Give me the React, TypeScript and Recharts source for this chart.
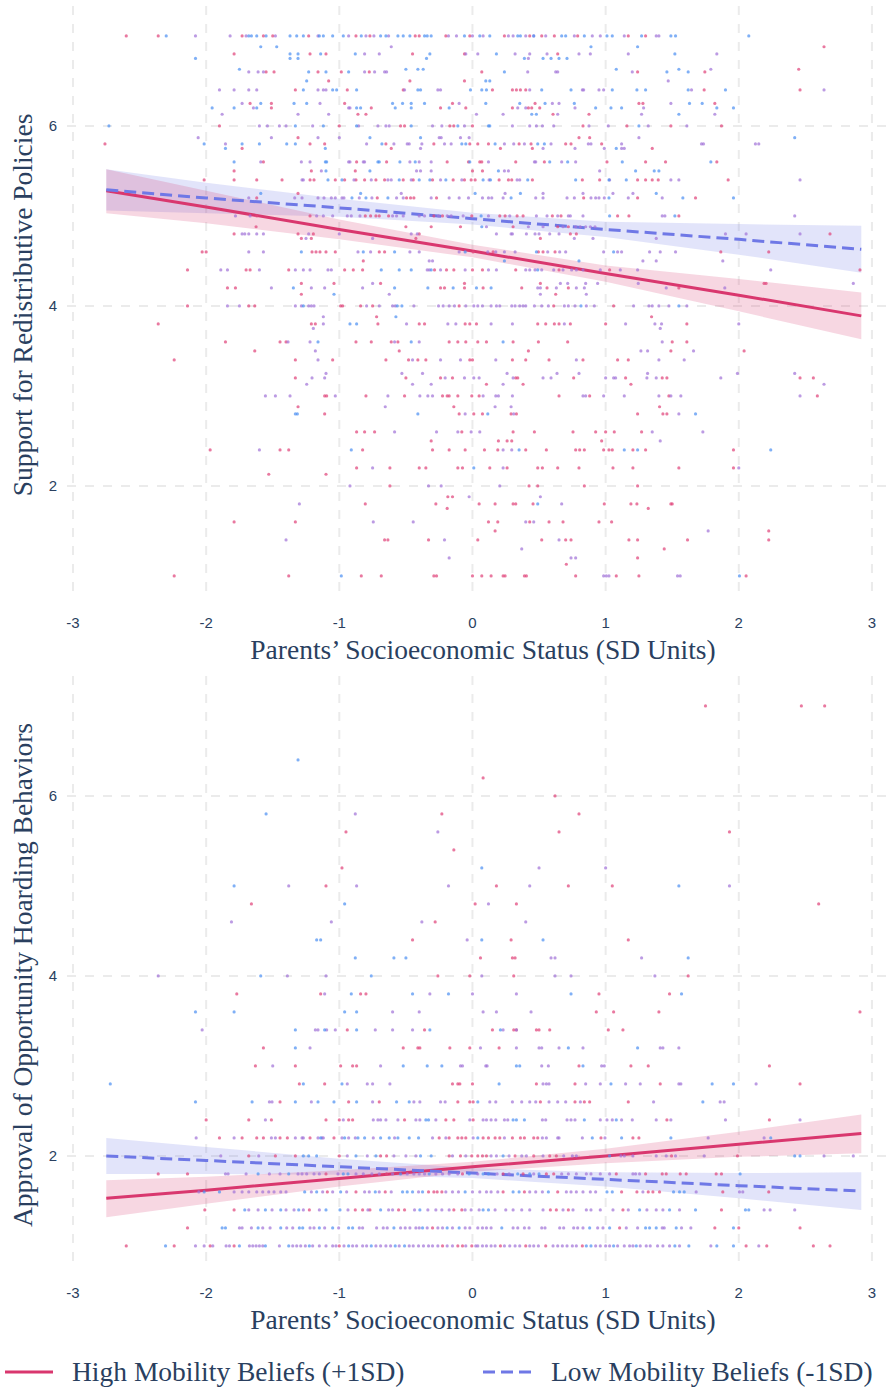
import React from 'react';
import { ComposedChart, Scatter, Line, Area, XAxis, YAxis, CartesianGrid } from 'recharts';

type Row = [number, number[]];

// ---------- Top panel: Support for Redistributive Policies ----------
const topPinkRows: Row[] = [
  [7.0, [-2.6, -2.36, -1.73, -1.57, -1.5, -1.23, -0.875, -0.77, -0.43, -0.4, -0.2, -0.02, 0.24, 0.43, 0.52, 0.615, 0.79, 1.17, 1.3]],
  [6.88, [2.64]],
  [6.8, [-1.79, -1.22, -1.1, -0.45, -0.06, 0.64]],
  [6.63, [2.45]],
  [6.6, [-1.55, -1.49, -1.16, -0.985, -0.775, 0.07, 1.24, 1.745]],
  [6.5, [-1.08, -0.47, -0.06]],
  [6.4, [-1.33, -0.94, -0.52, 0.15, 0.3, 0.33, 0.36, 0.4, 1.74, 2.46]],
  [6.25, [-1.67, -1.51, -0.96, -0.15, 0.47, 1.25, 1.28, 1.82]],
  [6.2, [-1.51, -0.76, -0.24, -0.05, 0.3, 0.42, 0.445, 0.505]],
  [6.13, [-0.86, -0.8, 0.605, 0.875]],
  [6.0, [-1.9, -1.0, -0.54, -0.51, -0.17, -0.14, 0, 0.83, 1.16, 1.49, 1.87]],
  [5.87, [-1.31, 0.8, 0.88]],
  [5.8, [-2.76, -1.22, -1.11, -0.65, -0.29, -0.02, 0.04, 0.12, 0.35, 0.44, 0.7, 0.74, 0.97]],
  [5.75, [-1.73, -0.61, 0.21, 0.45, 1.35]],
  [5.6, [-1.57, -0.87, -0.645, -0.19, -0.03, 0.055, 0.07, 0.325, 0.54, 1.01, 1.3, 1.45, 1.835]],
  [5.5, [-1.79, -1.21, -0.88, 0, 0.075]],
  [5.4, [-2.015, -1.79, -1.62, -1.43, -1.22, -1.19, -1.03, -0.96, -0.875, -0.81, -0.725, -0.66, -0.52, -0.445, -0.3, -0.145, -0.06, -0.01, 0.02, 0.2, 0.27, 0.295, 0.45, 0.825, 0.955, 1.24, 1.3, 1.35, 1.395, 1.92]],
  [5.25, [-1.31]],
  [5.2, [-1.62, -0.715, -0.495, -0.465, -0.44, -0.27, 0.835, 1.24, 1.675]],
  [5.0, [-1.62, -1.22, -0.805, -0.765, -0.725, -0.7, -0.63, -0.29, -0.225, -0.005, 0.205, 0.245, 0.335, 0.38, 0.6, 0.665, 1.09, 1.175, 1.55]],
  [4.88, [-1.625, -0.5, -0.31, -0.09, 0.305, 0.64, 0.72]],
  [4.8, [-1.79, -1.31, -1.195, -0.4, 0.735, 0.78, 2.685]],
  [4.75, [-1.285, -1.21, -0.425, 0.51]],
  [4.6, [-2.03, -2.0, -1.205, -1.175, -1.145, -1.1, -1.03, -0.7, -0.66, 0.005, 0.155, 0.495, 0.53, 0.62, 1.865, 2.225]],
  [4.5, [-0.82]],
  [4.4, [-2.14, -1.7, -1.67, -1.38, -0.96, -0.895, -0.825, -0.285, -0.195, -0.14, 0.0, 0.075, 0.325, 0.65, 1.03, 2.91]],
  [4.25, [-1.285, -1.04, -0.69, -0.06, 0.51, 2.19, 2.205]],
  [4.2, [-1.84, -1.78, -0.24, -0.21, -0.06, 0.08, 0.37, 0.56, 0.72, 1.55]],
  [4.13, [-1.285, 0.625]],
  [4.0, [-2.14, -1.68, -1.635, -0.99, -0.975, -0.84, -0.75, -0.1, 0.61, 1.06]],
  [3.88, [-0.72, 1.345]],
  [3.8, [-2.36, -1.21, -1.18, -0.71, -0.4, -0.36, -0.055, -0.02, 0.03, 0.49, 0.55, 0.615, 0.65, 0.735, 1.0, 1.61]],
  [3.6, [-1.855, -1.445, -1.4, -0.875, -0.76, -0.61, -0.56, -0.175, -0.11, -0.05, 0.04, 0.105, 0.305, 0.495, 0.715, 1.5, 1.61]],
  [3.5, [-1.635, -0.55, 0.42, 1.49, 2.04]],
  [3.4, [-2.24, -1.33, -1.05, -0.65, -0.48, -0.41, -0.35, -0.02, 0.0, 0.3, 0.4, 0.575, 0.83, 1.09, 1.17]],
  [3.2, [-1.33, -0.5, -0.24, -0.15, 0.325, 0.34, 0.76, 1.15, 1.425, 1.46, 2.46, 2.56]],
  [3.13, [0.105, 0.38, 1.19]],
  [3.0, [-1.11, -1.095, -0.8, -0.51, -0.225, -0.19, -0.175, -0.11, -0.005, 0.05, 0.65, 0.88, 1.475, 2.59]],
  [2.88, [-1.31, -0.14, 1.405]],
  [2.8, [-1.11, -0.1, 0.01, 0.075, 0.29, 0.33, 1.24, 1.43, 1.46]],
  [2.6, [-0.87, -0.81, -0.735, -0.08, 0.305, 0.465, 0.755, 0.925, 1.0, 1.065, 1.27]],
  [2.5, [-0.31, 0.195, 0.26, 0.295, 0.97]],
  [2.4, [-1.97, -1.445, -1.38, -0.825, -0.3, -0.175, -0.055, 0.09, 0.19, 0.4, 0.555, 0.775, 0.805, 0.84, 0.985, 1.025, 1.05, 1.205, 1.3, 1.96]],
  [2.2, [-0.87, -0.62, -0.4, -0.35, -0.11, -0.075, 0.13, 0.26, 0.49, 0.525, 0.64, 0.8, 1.055, 1.205, 1.55, 1.96]],
  [2.13, [-1.53, -1.1]],
  [2.0, [-0.62, 0.425, 0.49, 0.84, 1.24]],
  [1.88, [-0.185, -0.15]],
  [1.8, [-0.805, -0.275, 0.05, 0.17, 0.305, 0.325, 0.455, 0.99, 1.19, 1.235, 1.49, 1.5]],
  [1.75, [-0.19, 1.32]],
  [1.6, [-1.79, -1.33, 0.12, 0.19, 0.43, 0.575, 0.68, 0.95, 1.045]],
  [1.5, [0.17, 2.225]],
  [1.4, [-0.66, -0.635, -0.33, 0.04, 0.52, 0.7, 0.74, 1.175, 1.24, 1.615, 2.225]],
  [1.3, [1.44]],
  [1.2, [1.24]],
  [1.13, [0.705]],
  [1.0, [-2.24, -1.38, -0.835, -0.685, -0.29, -0.27, 0.0, 0.07, 0.14, 0.23, 0.245, 0.39, 0.405, 0.775, 1.08, 1.25, 2.055]],
];

const topBlueRows: Row[] = [
  [7.0, [-2.3, -1.68, -1.66, -1.62, -1.55, -1.37, -1.32, -1.27, -1.15, -1.12, -1.05, -0.97, -0.835, -0.69, -0.65, -0.56, -0.52, -0.47, -0.36, -0.34, -0.31, -0.06, 0.055, 0.13, 0.34, 0.36, 0.46, 0.67, 0.7, 0.84, 1.01, 1.05, 1.27, 1.49, 1.525, 2.075]],
  [6.88, [-1.59, -1.47, 0.89, 1.24]],
  [6.8, [-1.37, -1.31, -1.14, -0.88, -0.32, 0.18, 1.52]],
  [6.75, [-2.08, -1.37, -1.31, -0.345, 0.39, 0.53, 0.59, 0.65, 0.71]],
  [6.63, [-1.75, -0.5, -0.41, -0.37, 1.08, 1.55]],
  [6.6, [-1.23, -1.1, -0.93, 0.24, 1.46, 1.62]],
  [6.5, [-1.245, 0.1, 0.13]],
  [6.4, [-1.27, -1.05, -1.02, -0.87, -0.41, -0.39, -0.015, 0.07, 0.105, 0.52, 0.74, 1.05, 1.235, 1.3, 1.62, 1.9]],
  [6.25, [-1.59, -1.34, -1.245, -0.6, -0.525, -0.46, -0.36, 0.1, 0.355, 0.545, 0.765, 1.63, 1.725]],
  [6.2, [-1.955, -1.79, -1.62, -0.87, -0.84, -0.58, -0.46, -0.175, 0.925, 1.04, 1.12, 1.835, 1.96]],
  [6.13, [0.445, 0.48, 1.55]],
  [6.0, [-2.73, -1.33, -1.12, -0.87, -0.46, -0.11, 0.12, 0.13, 1.25]],
  [5.87, [-0.77, -0.39, 2.42]],
  [5.8, [-2.015, -1.73, -1.6, -1.395, -1.33, -0.68, -0.08, -0.05, 0.17, 0.49, 0.54]],
  [5.75, [-1.855, -1.105, 1.08]],
  [5.6, [-1.79, -1.105, -1.095, -0.71, -0.7, -0.545, -0.43, -0.02, 0.58, 0.715, 1.125, 1.79]],
  [5.5, [-1.1, -0.77, 0.195, 1.225, 1.365, 1.4]],
  [5.4, [-1.085, -0.98, -0.55, -0.4, -0.32, -0.2, 0.08, 0.135, 0.415, 0.775, 1.025, 1.155]],
  [5.25, [-1.59, -0.84, 0.02, 0.36, 1.38]],
  [5.2, [-0.905, -0.8, -0.635, 0.29, 1.025, 1.58, 1.96]],
  [5.0, [0.065, 1.03, 1.52]],
  [4.88, [0.07]],
  [4.6, [-1.285, -0.82, -0.585, -0.055, 0.48, 1.06]],
  [4.5, [0.24, 0.8]],
  [4.4, [-0.685, -0.55, -0.46, -0.31, 0.49]],
  [4.2, [-1.345, -0.585, -0.335, -0.145, 0.03, 0.14]],
  [4.13, [-1.04]],
  [4.0, [-1.27, -0.565, -0.53, 0.815, 1.55]],
  [3.88, [-0.575]],
  [3.8, [-0.92, -0.87]],
  [3.6, [-1.16, -0.46, 0.23]],
  [2.8, [-1.33, -1.315, -0.41, 0.115, 1.675]],
  [2.4, [-0.91, 0.35, 1.14, 1.24, 2.24]],
  [2.2, [0.01]],
  [1.8, [0.49]],
  [1.0, [-0.985, 2.005]],
];

const topPurpleRows: Row[] = [
  [7.0, [-2.08, -1.82, -1.7, -1.48, -1.16, -0.93, -0.8, -0.74, -0.63, -0.18, -0.12, 0, 0.08, 0.27, 0.305, 0.4, 0.46, 0.55, 0.765, 0.9, 0.96, 1.14, 1.38, 1.4]],
  [6.88, [-0.61]],
  [6.8, [-0.81, -0.7, -0.05, 0.04, 0.32, 0.43, 0.56, 0.8, 0.885, 1.17, 1.835]],
  [6.75, [0.42]],
  [6.63, [1.79]],
  [6.6, [-1.68, -1.61, -1.57, -0.81, -0.735, -0.66, -0.645, 0.415, 0.625, 0.64, 1.2]],
  [6.5, [1.47]],
  [6.4, [-1.9, -1.79, -1.68, -1.62, -1.16, -1.12, -1.1, -0.51, -0.26, -0.24, 0.43, 0.825, 0.835, 0.95, 0.985, 1.645, 2.64]],
  [6.25, [-1.73, -1.145, -0.1, 0.6, 0.65, 1.49]],
  [6.2, [-1.645, -0.93, -0.92, 0.34, 0.4, 0.77, 1.285]],
  [6.13, [-1.88, -1.31, -1.08, 0.03, 0.23, 0.64, 1.27, 1.82]],
  [6.0, [-1.6, -1.54, -1.45, -1.4, -1.2, -0.855, -0.71, -0.65, -0.625, -0.3, -0.23, -0.06, 0.3, 0.43, 0.48, 0.525, 0.61, 0.875, 1.02, 1.32, 1.61]],
  [5.87, [-2.06, -1.51, -1.16, -1.0, -0.25, -0.235, -0.09, -0.025, 1.25]],
  [5.8, [-1.855, -0.795, -0.59, -0.49, -0.475, -0.38, -0.21, -0.16, 0.24, 0.31, 0.39, 0.59, 0.87, 0.89, 1.12, 1.72, 1.735, 2.125, 2.15]],
  [5.75, [-0.39, 0.53, 0.77, 0.99, 1.12, 1.14]],
  [5.6, [-1.59, -1.285, -1.22, -0.93, -0.92, -0.82, -0.81, -0.47, -0.4, -0.31, 0.12, 0.465, 0.475, 0.67, 0.775]],
  [5.5, [-1.135, -0.42, -0.39, -0.31, 0.24, 0.27, 0.955]],
  [5.4, [-1.28, -1.27, -0.89, -0.76, -0.635, -0.61, -0.46, -0.24, -0.08, 0.125, 0.335, 0.355, 1.03, 1.49, 1.55, 2.46]],
  [5.25, [-0.535, 0.245, 0.53, 0.83, 1.055, 1.205]],
  [5.2, [-1.68, -1.335, -1.28, -1.16, -1.115, -1.06, -1.03, -0.98, -0.965, -0.85, -0.755, -0.57, -0.52, -0.31, -0.175, -0.1, -0.03, 0.075, 0.12, 0.145, 0.23, 0.475, 0.53, 0.71, 0.765, 0.89, 0.925, 0.95, 0.99, 1.17, 1.425]],
  [5.0, [-1.78, -1.67, -1.17, -1.12, -1.05, -0.94, -0.91, -0.845, -0.6, -0.57, -0.52, -0.4, -0.36, -0.255, -0.19, -0.16, -0.07, 0.12, 0.28, 0.48, 0.56, 0.64, 0.72, 0.735, 0.83, 1.425, 1.445, 2.42]],
  [4.88, [0.105, 0.42, 0.53, 0.68, 0.775, 0.81, 0.85, 0.885, 0.92]],
  [4.8, [-1.73, -1.71, -1.68, -1.62, -1.57, -1.23, -1.0, -0.46, -0.415, 0.18, 0.29, 0.3, 0.405, 0.47, 0.5, 0.58, 0.65, 1.9, 2.055, 2.46]],
  [4.75, [-1.25, -0.75, 0.765, 0.905, 1.38]],
  [4.6, [-1.68, -1.57, -0.86, -0.765, -0.47, -0.4, -0.1, 0.115, 0.175, 0.24, 0.32, 0.565, 0.655, 0.7, 0.985, 1.09, 1.12, 1.33, 1.41, 1.525]],
  [4.5, [-0.325, -0.3, 1.28, 1.38, 1.88]],
  [4.4, [-1.89, -1.84, -1.6, -1.33, -1.27, -1.22, -1.085, -1.06, -0.34, -0.325, -0.24, -0.055, 0.12, 0.18, 0.4, 0.43, 0.47, 0.52, 0.61, 0.68, 0.745, 0.78, 0.83, 0.96, 1.11, 1.24, 2.24]],
  [4.25, [-0.75, 0.66, 0.715, 0.85, 0.94, 1.245, 2.86]],
  [4.2, [-1.51, -1.21, -1.11, -0.825, 0.49, 0.51, 0.63, 0.78, 0.84, 1.455, 1.895]],
  [4.13, [-0.625, 0.51, 0.855]],
  [4.0, [-1.84, -1.75, -1.33, -1.285, -1.23, -1.21, -1.19, -0.795, -0.7, -0.6, -0.58, -0.44, -0.255, -0.22, -0.175, -0.135, -0.05, 0.01, 0.04, 0.075, 0.14, 0.18, 0.205, 0.295, 0.32, 0.355, 0.38, 0.4, 0.465, 0.52, 0.57, 0.69, 0.72, 0.77, 0.855, 0.915, 1.21, 1.325, 1.35, 1.4, 1.475, 1.61]],
  [3.88, [-1.12]],
  [3.8, [-1.12, -0.495, -0.185, -0.125, 0.14, 0.3, 0.69, 1.15, 1.37, 1.42, 2.0]],
  [3.75, [-1.195, 1.41]],
  [3.6, [-1.385, -1.22, -0.585, -0.4, 1.425]],
  [3.5, [-1.18, 1.265, 1.315, 1.66]],
  [3.4, [-1.16, -0.45, -0.24, -0.09, 0.175, 0.78, 1.4, 1.59]],
  [3.25, [-1.1, -0.53, -0.375, 0.26, 0.635, 0.8, 1.315, 1.99, 2.42]],
  [3.2, [-1.205, -1.11, -0.205, -0.06, 0.01, 0.05, 0.305, 0.53, 0.59, 1.0, 1.06, 1.075, 1.31, 1.38, 1.865]],
  [3.13, [-1.245, -0.45, -0.31, 0.23, 2.64]],
  [3.0, [-1.555, -1.48, -1.37, -1.03, -0.635, -0.395, -0.335, -0.3, 0.08, 0.175, 0.195, 0.3, 0.83, 0.85, 0.985, 1.14, 1.4, 1.49, 1.565, 2.46]],
  [2.88, [-0.655, 0.17, 0.29]],
  [2.8, [-0.055, 0.31, 1.55]],
  [2.6, [-0.585, -0.27, -0.11, -0.01, 0.055, 1.35, 1.73]],
  [2.5, [1.41]],
  [2.4, [-1.6, 0.23, 0.295]],
  [2.2, [-0.75, 0.23, 2.0]],
  [2.0, [-0.92, -0.33, -0.235, 0.205]],
  [1.88, [-0.025, 0.51]],
  [1.8, [-1.3, 0.67]],
  [1.6, [-0.745, -0.445, 0.4, 0.46]],
  [1.5, [1.77]],
  [1.4, [-1.4, -0.21, 0.65]],
  [1.3, [0.37]],
  [1.2, [-0.175, 0.74, 0.775]],
  [1.0, [0.985, 1.005, 1.025, 1.54, 1.56]],
];

// ---------- Bottom panel: Approval of Opportunity Hoarding Behaviors ----------
const botPinkRows: Row[] = [
  [7.0, [1.75, 2.47, 2.645]],
  [6.2, [0.08]],
  [6.0, [0.62]],
  [5.8, [-0.23, 0.8]],
  [5.6, [-0.95, 0.65, 1.93]],
  [5.4, [-0.14]],
  [5.2, [-0.98]],
  [5.0, [-1.1, 0.18, 0.72, 1.05]],
  [4.8, [-1.66, 0.02, 0.33, 2.6]],
  [4.6, [-0.28]],
  [4.4, [-0.45, 0.29, 1.17]],
  [4.2, [0.06, 0.3, 0.32]],
  [4.0, [-0.26, -0.02, 0.31, 1.62]],
  [3.8, [-1.77, -1.14, -0.84, -0.8, 0.95, 1.48]],
  [3.6, [0.93, 1.06, 1.4, 2.91]],
  [3.4, [-0.94, -0.36, 0.15, 0.31, 0.33, 0.48, 0.5, 0.58, 1.02, 1.13]],
  [3.2, [-1.57, -0.52, -0.41, -0.395, -0.17, -0.02, 0.2]],
  [3.0, [-1.63, -1.33, -0.99, -0.9, -0.87, 0.8, 1.19, 1.32, 2.23]],
  [2.8, [-1.3, -1.11, -0.15, -0.11, -0.095, 0.0, 0.48, 0.77, 1.41, 2.46]],
  [2.6, [-1.445, -0.93, -0.7, -0.11, -0.02, 0.005, 0.51, 0.77, 0.84, 0.88, 1.17]],
  [2.4, [-2.0, -1.68, -1.51, -1.1, -1.0, -0.93, -0.9, -0.51, -0.2, -0.14, 0.005, 1.46, 2.23]],
  [2.2, [-1.9, -1.73, -1.62, -1.57, -1.445, -1.39, -1.22, -1.04, -0.25, -0.175, -0.11, -0.08, -0.05, 0.08, 0.12, 0.17, 0.205, 0.3, 0.36, 0.39, 0.46, 0.49, 0.965, 1.205, 1.25]],
  [2.0, [-1.68, -1.48, -1.33, -1.0, -0.69, -0.645, -0.175, -0.09, -0.005, 0.04, 0.075, 0.105, 0.32, 0.46, 0.58, 0.63, 1.495, 1.99]],
  [1.8, [-2.36, -2.14, -1.1, -0.645, -0.075, 0.23, 0.38, 0.555, 0.61, 1.08, 1.3, 1.425, 1.455, 1.56, 1.605, 1.83, 1.87]],
  [1.6, [-1.09, -0.875, -0.655, -0.33, -0.29, -0.265, -0.23, 0.23, 0.39, 0.64, 1.12, 1.235, 1.32, 1.355, 1.405, 1.88, 2.225]],
  [1.4, [-2.01, -1.79, -1.225, -0.88, -0.825, -0.77, -0.555, -0.51, -0.14, -0.08, 0.585, 0.63, 0.72, 1.13, 1.87]],
  [1.2, [-2.14, -0.3, 1.105, 1.82, 2.0, 2.46]],
  [1.0, [-2.6, -2.24, -1.97, -1.79, -1.0, -0.225, -0.11, -0.075, -0.005, 0.21, 0.4, 0.55, 0.825, 2.055, 2.21, 2.56, 2.685]],
];

const botBlueRows: Row[] = [
  [6.4, [-1.31]],
  [5.8, [-1.55]],
  [5.2, [0.07]],
  [5.0, [-1.79, 1.55]],
  [4.8, [-0.96]],
  [4.4, [-1.17, -1.14, 0.07, 0.53]],
  [4.2, [-0.88, -0.59, -0.5, 1.62]],
  [4.0, [-1.59, -0.76]],
  [3.8, [-0.91, -0.45, -0.18, 0.74, 1.57]],
  [3.6, [-2.08, -1.79, -0.96, -0.87]],
  [3.4, [-1.33, -1.11, -0.87, -0.32, 0.21]],
  [3.2, [-1.33, 0.72, 1.24]],
  [3.0, [-0.52, -0.34, -0.23, 0.33, 0.355, 0.83]],
  [2.8, [-2.72, -1.27, -0.98, 0.2, 1.04, 1.8, 1.96]],
  [2.6, [-2.08, -1.655, -1.33, -1.16, -1.04, -0.87, -0.57, -0.475, 0.04, 1.73]],
  [2.4, [-0.35, -0.33, 0.305, 0.33, 0.39, 0.84, 1.08]],
  [2.2, [-1.14, -0.96, -0.86, -0.81, -0.69, -0.625, -0.56, -0.475, -0.405, 0.04, 0.9, 1.12, 1.49, 2.24]],
  [2.0, [-1.27, -1.23, -1.17, -0.875, -0.725, -0.39, -0.31, 0.23, 1.03, 2.42, 2.46]],
  [1.8, [-1.61, -1.38, -0.97, -0.935, -0.54, -0.325, -0.025, 0.08, 0.12, 0.34, 0.43, 0.5, 2.01]],
  [1.6, [-2.015, -1.9, -1.26, -1.17, -0.99, -0.73, -0.525, -0.49, -0.45, -0.375, -0.055, 0.305, 0.35, 0.57, 1.01, 1.05, 1.51, 1.555, 1.59]],
  [1.4, [-1.71, -1.555, -1.44, -1.305, -1.1, -0.995, -0.69, -0.395, 0.08, 0.12, 1.255, 1.48, 1.675, 2.05, 2.075]],
  [1.2, [-1.88, -1.855, -1.61, -1.44, -1.3, -1.275, -1.15, -1.05, -0.93, -0.9, -0.59, -0.375, -0.19, -0.1, 0.22, 0.88, 1.03, 1.3, 1.33, 1.38, 1.53, 1.96]],
  [1.0, [-2.305, -1.75, -1.555, -1.38, -1.225, -0.93, -0.76, -0.58, -0.51, 0.855, 0.89, 1.06, 1.23, 1.52, 1.625, 1.835, 1.96]],
];

const botPurpleRows: Row[] = [
  [5.8, [-0.88]],
  [5.6, [-0.26]],
  [5.2, [0.5, 1.0]],
  [5.0, [-1.38, -0.87, -0.18, 0.43, 1.93]],
  [4.8, [0.12]],
  [4.6, [-1.81, -1.06, -0.38, 0.4]],
  [4.4, [-0.04]],
  [4.2, [0.59, 0.62, 1.27]],
  [4.0, [-2.36, -1.39, -1.1, 0.07, 0.62, 0.74, 1.37]],
  [3.8, [-1.11, -0.32, 0.0, 0.33]],
  [3.6, [-0.6, -0.4, 0.08, 0.18, 0.44]],
  [3.4, [-2.03, -1.18, -1.16, -1.095, -1.03, -0.73, -0.6, -0.45, 0.23, 0.33]],
  [3.2, [-1.22, 0.06, 0.33, 0.5, 0.52, 0.65, 0.83, 1.41, 1.43, 1.55]],
  [3.0, [-1.5, -0.69, -0.09, -0.075, 0.1, 0.11, 0.52, 0.57, 0.97, 0.99]],
  [2.8, [-0.94, -0.79, -0.75, -0.62, 0.53, 0.555, 0.575, 0.85, 0.96, 1.15, 1.26, 1.55, 1.565, 2.13]],
  [2.6, [-1.525, -1.505, -1.21, -0.75, -0.44, -0.395, -0.24, -0.205, 0.13, 0.175, 0.3, 0.37, 0.43, 0.475, 0.575, 0.64, 0.7, 0.81, 1.36, 1.86, 1.89]],
  [2.4, [-1.555, -0.97, -0.745, -0.71, -0.69, -0.65, -0.56, -0.425, -0.395, -0.275, -0.02, 0.08, 0.105, 0.14, 0.175, 0.24, 0.265, 0.525, 0.55, 0.71, 0.74, 0.77, 0.96, 1.01, 1.05, 1.12, 1.2, 1.38, 1.49, 1.9, 2.46]],
  [2.2, [-2.075, -1.79, -1.51, -1.48, -1.33, -1.28, -1.27, -1.16, -1.13, -1.12, -0.98, -0.93, -0.88, -0.745, -0.585, -0.3, -0.2, 0.005, 0.24, 0.525, 0.555, 0.64, 0.65, 0.825, 0.995, 1.77, 2.19]],
  [2.0, [-1.89, -1.605, -0.94, -0.79, -0.59, -0.5, -0.425, -0.15, -0.05, 0.14, 0.18, 0.275, 0.37, 0.405, 0.53, 0.685, 0.75, 0.78, 1.115, 1.14, 1.205, 1.38, 1.455, 1.525, 1.74, 2.64, 2.86]],
  [1.8, [-1.855, -1.835, -1.7, -1.525, -1.445, -1.31, -1.28, -1.245, -1.19, -1.15, -1.01, -0.875, -0.82, -0.755, -0.7, -0.6, -0.49, -0.44, -0.4, -0.36, -0.275, -0.225, -0.175, -0.11, 0.04, 0.185, 0.275, 0.46, 0.67, 0.72, 0.78, 0.855, 0.89, 0.96, 1.03, 1.205, 1.225, 1.255]],
  [1.6, [-2.055, -1.79, -1.73, -1.68, -1.62, -1.575, -1.53, -1.49, -1.44, -1.4, -1.21, -1.125, -1.05, -0.945, -0.81, -0.775, -0.7, -0.61, -0.405, -0.2, -0.15, -0.105, 0.0, 0.055, 0.105, 0.14, 0.19, 0.43, 0.475, 0.525, 0.705, 0.74, 0.78, 0.83, 0.885, 0.925, 1.28, 1.68, 2.005, 2.03]],
  [1.4, [-1.68, -1.61, -1.505, -1.4, -1.34, -1.27, -1.15, -0.935, -0.785, -0.63, -0.6, -0.435, -0.335, -0.275, -0.23, -0.175, -0.055, -0.01, 0.05, 0.17, 0.25, 0.305, 0.37, 0.43, 0.53, 0.68, 0.755, 0.855, 0.89, 0.96, 1.055, 1.17, 1.31, 1.38, 1.43, 1.555, 2.19, 2.235, 2.42]],
  [1.2, [-1.75, -1.73, -1.66, -1.575, -1.52, -1.395, -1.35, -1.22, -1.19, -1.11, -1.005, -0.85, -0.825, -0.72, -0.67, -0.64, -0.54, -0.505, -0.47, -0.425, -0.4, -0.34, -0.26, -0.225, -0.15, -0.055, -0.02, 0.04, 0.075, 0.105, 0.14, 0.305, 0.34, 0.39, 0.425, 0.52, 0.545, 0.655, 0.685, 0.76, 0.79, 0.83, 0.94, 0.98, 1.155, 1.24, 1.425, 1.44, 1.57, 1.64]],
  [1.0, [-2.08, -2.015, -1.95, -1.85, -1.825, -1.675, -1.65, -1.625, -1.6, -1.575, -1.45, -1.35, -1.32, -1.29, -1.255, -1.2, -1.15, -1.1, -1.05, -1.025, -0.965, -0.9, -0.87, -0.825, -0.795, -0.725, -0.69, -0.65, -0.615, -0.55, -0.475, -0.445, -0.405, -0.368, -0.33, -0.3, -0.26, -0.19, -0.15, -0.05, 0.025, 0.04, 0.075, 0.105, 0.14, 0.17, 0.24, 0.28, 0.32, 0.355, 0.43, 0.46, 0.495, 0.605, 0.64, 0.675, 0.71, 0.75, 0.78, 0.925, 0.96, 1.0, 1.03, 1.09, 1.14, 1.18, 1.205, 1.26, 1.305, 1.335, 1.39, 1.43, 1.48, 1.555, 1.79, 2.15]],
];

// ---------- Fitted lines and confidence bands ----------
const fitX = [-2.75, -2, -1, 0, 1, 2, 2.92];
const topHighFit = [5.28, 5.1, 4.85, 4.61, 4.36, 4.12, 3.89];
const topHighLower = [5.03, 4.92, 4.74, 4.54, 4.27, 3.94, 3.63];
const topHighUpper = [5.52, 5.28, 4.96, 4.68, 4.45, 4.3, 4.15];
const topLowFit = [5.29, 5.2, 5.09, 4.97, 4.85, 4.74, 4.63];
const topLowLower = [5.06, 5.03, 4.99, 4.905, 4.765, 4.57, 4.37];
const topLowUpper = [5.52, 5.37, 5.19, 5.035, 4.935, 4.91, 4.89];
const botHighFit = [1.53, 1.62, 1.75, 1.88, 2.0, 2.13, 2.25];
const botHighLower = [1.32, 1.47, 1.66, 1.825, 1.92, 1.99, 2.03];
const botHighUpper = [1.73, 1.77, 1.84, 1.935, 2.08, 2.27, 2.46];
const botLowFit = [2.0, 1.95, 1.88, 1.81, 1.74, 1.67, 1.61];
const botLowLower = [1.8, 1.8, 1.79, 1.755, 1.66, 1.53, 1.4];
const botLowUpper = [2.2, 2.1, 1.97, 1.865, 1.82, 1.81, 1.82];

const xTicks = [-3, -2, -1, 0, 1, 2, 3];
const yTicks = [2, 4, 6];
const xTitle = 'Parents\u2019 Socioeconomic Status (SD Units)';
const topYTitle = 'Support for Redistributive Policies';
const botYTitle = 'Approval of Opportunity Hoarding Behaviors';
const highLabel = 'High Mobility Beliefs (+1SD)';
const lowLabel = 'Low Mobility Beliefs (-1SD)';

const PINK = '#d9376e';
const BLUE = '#6f78e6';
const TEXT = '#2a3f5f';
const SERIF = '"Liberation Serif", "Times New Roman", serif';
const SANS = '"Liberation Sans", Arial, sans-serif';
const TICK_SIZE = 15;

const flatten = (rows: Row[]) => rows.flatMap(([y, xs]) => xs.map((x) => ({ x, y })));

const makeFit = (hf: number[], hl: number[], hu: number[], lf: number[], ll: number[], lu: number[]) =>
  fitX.map((x, i) => ({ x, hiFit: hf[i], hiBand: [hl[i], hu[i]], loFit: lf[i], loBand: [ll[i], lu[i]] }));

const dot = (color: string) => (props: any) => {
  if (props.cx == null || props.cy == null) return <g />;
  return <circle cx={props.cx} cy={props.cy} r={1.6} fill={color} fillOpacity={0.72} />;
};

const scaleOf = (axis: any) => {
  if (!axis) return null;
  const s = axis.scale;
  if (typeof s === 'function') return s;
  if (s && typeof s.map === 'function') return (v: number) => s.map(v);
  return null;
};

const vGen = (args: any) => {
  const s = scaleOf(args && args.xAxis);
  return s ? xTicks.map((t) => s(t)) : [];
};
const hGen = (args: any) => {
  const s = scaleOf(args && args.yAxis);
  return s ? yTicks.map((t) => s(t)) : [];
};

const XTick = (p: any) => (
  <text x={p.x} y={p.y} dy="0.71em" textAnchor="middle" fill={TEXT} fontSize={TICK_SIZE} fontFamily={SANS}>
    {String(p.payload && p.payload.value)}
  </text>
);
const YTick = (p: any) => (
  <text x={p.x} y={p.y} dy="0.35em" textAnchor="end" fill={TEXT} fontSize={TICK_SIZE} fontFamily={SANS}>
    {String(p.payload && p.payload.value)}
  </text>
);

function Panel(props: { pink: Row[]; blue: Row[]; purple: Row[]; fit: any[]; yTitle: string }) {
  const { pink, blue, purple, fit, yTitle } = props;
  return (
    <ComposedChart width={887} height={665} data={fit} margin={{ top: 6, right: 0, bottom: 0, left: 0 }}>
      <CartesianGrid
        stroke="#ebebeb"
        strokeWidth={2}
        strokeDasharray="9 9"
        verticalCoordinatesGenerator={vGen}
        horizontalCoordinatesGenerator={hGen}
      />
      <XAxis
        type="number"
        dataKey="x"
        domain={[-3.045, 3.113]}
        ticks={xTicks}
        interval={0}
        allowDataOverflow
        axisLine={false}
        tickLine={false}
        tickSize={0}
        tickMargin={17}
        height={65}
        tick={XTick}
        label={{
          content: (p: any) => {
            const vb = p.viewBox || {};
            return (
              <text x={vb.x + vb.width / 2 + 6} y={vb.y + 59} textAnchor="middle" fill={TEXT} fontSize={27.5} fontFamily={SERIF}>
                {xTitle}
              </text>
            );
          },
        }}
      />
      <YAxis
        type="number"
        domain={[0.733, 7.333]}
        ticks={yTicks}
        interval={0}
        allowDataOverflow
        axisLine={false}
        tickLine={false}
        tickSize={0}
        tickMargin={10}
        width={67}
        tick={YTick}
        label={{
          content: (p: any) => {
            const vb = p.viewBox || {};
            const cx = (vb.x || 0) + 32;
            const cy = vb.y + vb.height / 2 + 2;
            return (
              <text x={cx} y={cy} transform={`rotate(-90 ${cx} ${cy})`} textAnchor="middle" fill={TEXT} fontSize={27.5} fontFamily={SERIF}>
                {yTitle}
              </text>
            );
          },
        }}
      />
      <Scatter data={flatten(pink)} dataKey="y" shape={dot('#e0457b')} isAnimationActive={false} />
      <Scatter data={flatten(purple)} dataKey="y" shape={dot('#a274d8')} isAnimationActive={false} />
      <Scatter data={flatten(blue)} dataKey="y" shape={dot('#4f92f2')} isAnimationActive={false} />
      <Area dataKey="loBand" type="linear" stroke="none" fill="#6e78e6" fillOpacity={0.2} isAnimationActive={false} activeDot={false} />
      <Area dataKey="hiBand" type="linear" stroke="none" fill="#d9376e" fillOpacity={0.2} isAnimationActive={false} activeDot={false} />
      <Line dataKey="hiFit" type="linear" stroke={PINK} strokeWidth={3} dot={false} activeDot={false} isAnimationActive={false} />
      <Line dataKey="loFit" type="linear" stroke={BLUE} strokeWidth={3} strokeDasharray="12 6" dot={false} activeDot={false} isAnimationActive={false} />
    </ComposedChart>
  );
}

export default function App() {
  const topFit = makeFit(topHighFit, topHighLower, topHighUpper, topLowFit, topLowLower, topLowUpper);
  const botFit = makeFit(botHighFit, botHighLower, botHighUpper, botLowFit, botLowLower, botLowUpper);
  return (
    <div style={{ position: 'absolute', left: 0, top: 0, width: 887, height: 1388, background: '#fff', overflow: 'hidden' }}>
      <div style={{ position: 'absolute', left: 0, top: 0 }}>
        <Panel pink={topPinkRows} blue={topBlueRows} purple={topPurpleRows} fit={topFit} yTitle={topYTitle} />
      </div>
      <div style={{ position: 'absolute', left: 0, top: 670 }}>
        <Panel pink={botPinkRows} blue={botBlueRows} purple={botPurpleRows} fit={botFit} yTitle={botYTitle} />
      </div>
      <div style={{ position: 'absolute', left: 0, top: 1350, width: 887, height: 44, fontFamily: SERIF, fontSize: 27.5, color: TEXT }}>
        <svg width={60} height={44} style={{ position: 'absolute', left: 0, top: 0 }}>
          <line x1={5} y1={22} x2={53} y2={22} stroke={PINK} strokeWidth={3} />
        </svg>
        <span style={{ position: 'absolute', left: 72, top: 22, transform: 'translateY(-50%)', whiteSpace: 'nowrap', lineHeight: 1 }}>{highLabel}</span>
        <svg width={60} height={44} style={{ position: 'absolute', left: 480, top: 0 }}>
          <line x1={3} y1={22} x2={51} y2={22} stroke={BLUE} strokeWidth={3} strokeDasharray="12 6" />
        </svg>
        <span style={{ position: 'absolute', left: 551, top: 22, transform: 'translateY(-50%)', whiteSpace: 'nowrap', lineHeight: 1 }}>{lowLabel}</span>
      </div>
    </div>
  );
}
